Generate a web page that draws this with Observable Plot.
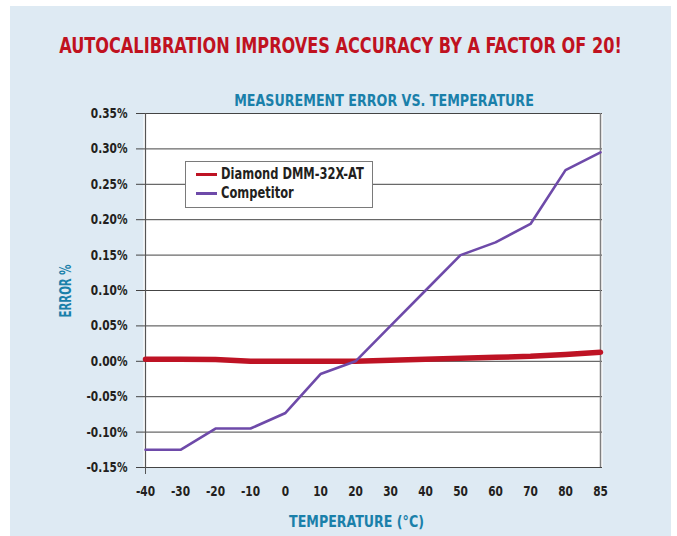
<!DOCTYPE html>
<html>
<head>
<meta charset="utf-8">
<script src="https://cdn.jsdelivr.net/npm/d3@7"></script>
<script src="https://cdn.jsdelivr.net/npm/@observablehq/plot@0.6"></script>
<style>
  html, body { margin: 0; padding: 0; background: #ffffff; }
  #wrap { position: relative; width: 677px; height: 536px; overflow: hidden; background: #ffffff; }
  #panel { position: absolute; left: 10px; top: 6px; width: 661px; height: 530px; background: #deeaf3; }
  #chart { position: absolute; left: 0; top: 0; }
  .cond { font-family: "Liberation Sans Narrow", "DejaVu Sans Condensed", "Arial Narrow", sans-serif; font-weight: bold; }
  #legend { position: absolute; left: 185px; top: 161px; width: 186px; height: 45px; background: #ffffff; border: 1px solid #7a7a7a; }
  .item { position: absolute; left: 0; height: 18px; line-height: 18px; font-size: 15px; color: #231f20; white-space: nowrap; }
  .sw { position: absolute; left: 10px; width: 21px; top: 8px; height: 3px; }
  .lab { position: absolute; left: 35px; top: 0; display: inline-block; transform: scaleX(0.85); transform-origin: 0 50%; }
</style>
</head>
<body>
<div id="wrap">
  <div id="panel"></div>
  <div id="chart"></div>
</div>
<script>
// ---- data ----
const temps = ["-40","-30","-20","-10","0","10","20","30","40","50","60","70","80","85"];
const diamond = [0.0030, 0.0030, 0.0027, 0.0002, 0.0000, 0.0000, 0.0000, 0.0015, 0.0030, 0.0042, 0.0056, 0.0070, 0.0095, 0.0128];
const competitor = [-0.125, -0.125, -0.095, -0.095, -0.073, -0.018, 0.000, 0.050, 0.100, 0.150, 0.168, 0.194, 0.270, 0.295];
const yTicks = [-0.15, -0.10, -0.05, 0.00, 0.05, 0.10, 0.15, 0.20, 0.25, 0.30, 0.35];
const seriesNames = ["Diamond DMM-32X-AT", "Competitor"];
const seriesColors = ["#be1324", "#6e4aa9"];
const titleText = "AUTOCALIBRATION IMPROVES ACCURACY BY A FACTOR OF 20!";
const subtitleText = "MEASUREMENT ERROR VS. TEMPERATURE";
const xLabel = "TEMPERATURE (°C)";
const yLabel = "ERROR %";

const rows = [];
temps.forEach((t, i) => {
  rows.push({series: seriesNames[0], temp: t, value: diamond[i]});
  rows.push({series: seriesNames[1], temp: t, value: competitor[i]});
});

const FONT = '"Liberation Sans Narrow", "DejaVu Sans Condensed", "Arial Narrow", sans-serif';
const fmt = v => v.toFixed(2) + "%";

const plot = Plot.plot({
  width: 677,
  height: 536,
  marginLeft: 143,
  marginRight: 75,
  marginTop: 113,
  marginBottom: 69,
  style: {background: "transparent", fontFamily: FONT, fontSize: "14px", fontWeight: "bold", color: "#231f20", overflow: "visible"},
  x: {type: "point", domain: temps, padding: 0},
  y: {domain: [-0.15, 0.35]},
  marks: [
    Plot.frame({fill: "#ffffff", stroke: "none"}),
    Plot.gridY(yTicks, {stroke: "#444", strokeOpacity: 1, strokeWidth: 1}),
    Plot.ruleX([temps[temps.length - 1]], {stroke: "#7f7f7f", strokeWidth: 1.5}),
    Plot.ruleX([temps[0]], {stroke: "#555", strokeWidth: 1.2}),
    Plot.axisY({ticks: yTicks, tickFormat: fmt, tickSize: 7, tickPadding: 9, label: null, stroke: "#444"}),
    Plot.axisX({ticks: [temps[0]], tickSize: 7, text: null, label: null, stroke: "#555"}),
    Plot.axisX({tickSize: 0, tickPadding: 19, label: null}),
    Plot.line(rows.filter(d => d.series === seriesNames[0]), {x: "temp", y: "value", stroke: seriesColors[0], strokeWidth: 5.5}),
    Plot.line(rows.filter(d => d.series === seriesNames[1]), {x: "temp", y: "value", stroke: seriesColors[1], strokeWidth: 2.6, strokeLinejoin: "miter"})
  ]
});

document.getElementById("chart").appendChild(plot);
const svg = d3.select(plot);

// condense tick labels
svg.selectAll('g[aria-label="y-axis tick label"] text, g[aria-label="x-axis tick label"] text')
  .attr("transform", function() { return (this.getAttribute("transform") || "") + " scale(0.84,1)"; });

function addText(str, x, y, size, fill, width, rotate) {
  const t = svg.append("text")
    .attr("text-anchor", "middle")
    .attr("font-family", FONT).attr("font-weight", "bold").attr("font-size", size)
    .attr("fill", fill)
    .text(str);
  const natural = t.node().getComputedTextLength();
  const k = width / natural;
  t.attr("transform", `translate(${x},${y})` + (rotate ? " rotate(-90)" : "") + ` scale(${k},1)`);
  return t;
}
addText(titleText, 340.5, 52.5, 21, "#c0121f", 563, false);
addText(subtitleText, 384, 105.5, 15, "#1a80aa", 300, false);
addText(xLabel, 356.5, 527, 15, "#1a80aa", 135, false);
addText(yLabel, 71, 291, 15, "#1a80aa", 53, true);

// legend
const legend = document.createElement("div");
legend.id = "legend";
legend.className = "cond";
seriesNames.forEach((name, i) => {
  const item = document.createElement("div");
  item.className = "item";
  item.style.top = (i === 0 ? 3 : 22) + "px";
  const sw = document.createElement("div");
  sw.className = "sw";
  sw.style.background = seriesColors[i];
  const lab = document.createElement("span");
  lab.className = "lab";
  lab.textContent = name;
  item.appendChild(sw);
  item.appendChild(lab);
  legend.appendChild(item);
});
document.getElementById("wrap").appendChild(legend);
</script>
</body>
</html>
